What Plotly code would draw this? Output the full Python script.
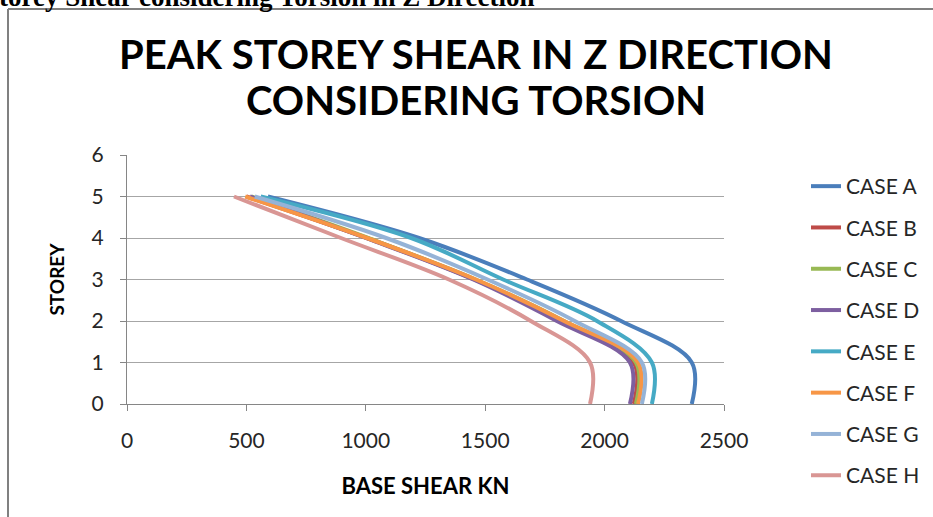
import plotly.graph_objects as go

storeys = [0, 1, 2, 3, 4, 5]
case_names = ["CASE A", "CASE B", "CASE C", "CASE D", "CASE E", "CASE F", "CASE G", "CASE H"]
case_a = [2365, 2365, 2069, 1675, 1223, 590]
case_b = [2122, 2122, 1822, 1455, 1005, 500]
case_c = [2131, 2131, 1830, 1460, 1010, 520]
case_d = [2106, 2106, 1800, 1450, 1000, 515]
case_e = [2198, 2198, 1968, 1575, 1190, 560]
case_f = [2140, 2140, 1830, 1461, 1005, 495]
case_g = [2156, 2156, 1875, 1510, 1085, 535]
case_h = [1939, 1939, 1691, 1348, 896, 448]
x_ticks = [0, 500, 1000, 1500, 2000, 2500]
y_ticks = [0, 1, 2, 3, 4, 5, 6]

series = [case_a, case_b, case_c, case_d, case_e, case_f, case_g, case_h]
colors = ["#4A7EBB", "#BE4B48", "#98B954", "#7D5FA0", "#46AAC5", "#F79646", "#95B3D7", "#D99694"]

FONT = "Lato"
TXT = "#262626"

fig = go.Figure()
for name, vals, col in zip(case_names, series, colors):
    fig.add_trace(go.Scatter(
        x=vals, y=storeys, mode="lines", name=name, legendgroup=name,
        line=dict(color=col, width=4, shape="spline", smoothing=1.0),
    ))

W, H = 933, 517
L, R, T, B = 127, 724, 155, 404

def px(xp):
    return (xp - L) / (R - L)

def py(yp):
    return (B - yp) / (B - T)

fig.update_layout(
    width=W, height=H,
    margin=dict(l=L, r=W - R, t=T, b=H - B, autoexpand=False),
    paper_bgcolor="white", plot_bgcolor="white",
    font=dict(family=FONT, color=TXT),
    title=dict(
        text="<b>PEAK STOREY SHEAR IN Z DIRECTION</b>",
        x=476 / W, xanchor="center", yref="container", y=1 - 55 / H, yanchor="middle",
        font=dict(family=FONT, size=40, color="#000000"),
    ),
    xaxis=dict(
        range=[0, 2500], tickvals=x_ticks, showgrid=False, zeroline=False,
        showline=True, linecolor="#868686", linewidth=1,
        ticks="outside", ticklen=6, tickcolor="#868686",
        tickfont=dict(size=21, family=FONT, color=TXT), ticklabelstandoff=12,
        title=dict(text="<b>BASE SHEAR KN</b>", font=dict(size=22, family=FONT, color="#000000"), standoff=27),
        fixedrange=True,
    ),
    yaxis=dict(
        range=[0, 6], tickvals=y_ticks, showgrid=True, gridcolor="#A6A6A6", gridwidth=1,
        zeroline=False, showline=True, linecolor="#868686", linewidth=1,
        ticks="outside", ticklen=6, tickcolor="#868686",
        tickfont=dict(size=21, family=FONT, color=TXT), ticklabelstandoff=12,
        title=dict(text="<b>STOREY</b>", font=dict(size=19, family=FONT, color="#000000"), standoff=21),
        fixedrange=True,
    ),
    legend=dict(
        x=px(806), xanchor="left", y=py(166), yanchor="top",
        font=dict(size=21, family=FONT, color=TXT),
        tracegroupgap=11, traceorder="grouped", bgcolor="rgba(0,0,0,0)",
        maxheight=600,
    ),
    showlegend=True,
)

# second title line
fig.add_annotation(
    text="<b>CONSIDERING TORSION</b>", xref="paper", yref="paper",
    x=px(476), xanchor="center", y=py(100), yanchor="middle", showarrow=False,
    font=dict(family=FONT, size=40, color="#000000"),
)

# frame lines of the surrounding document figure
fig.add_shape(type="line", xref="paper", yref="paper", x0=px(8), x1=px(940), y0=py(9), y1=py(9),
              line=dict(color="#808080", width=2))
fig.add_shape(type="line", xref="paper", yref="paper", x0=px(8), x1=px(8), y0=py(9), y1=py(530),
              line=dict(color="#808080", width=2))

fig.add_annotation(
    text="<b>torey Shear considering Torsion in Z Direction</b>",
    xref="paper", yref="paper", x=px(537), xanchor="right", y=py(14), yanchor="bottom",
    showarrow=False, font=dict(family="Liberation Serif", size=27, color="#000000"),
)

fig.write_html("out.html", config={"displayModeBar": False},
               post_script="document.body.style.margin='0px';document.body.style.overflow='hidden';")
